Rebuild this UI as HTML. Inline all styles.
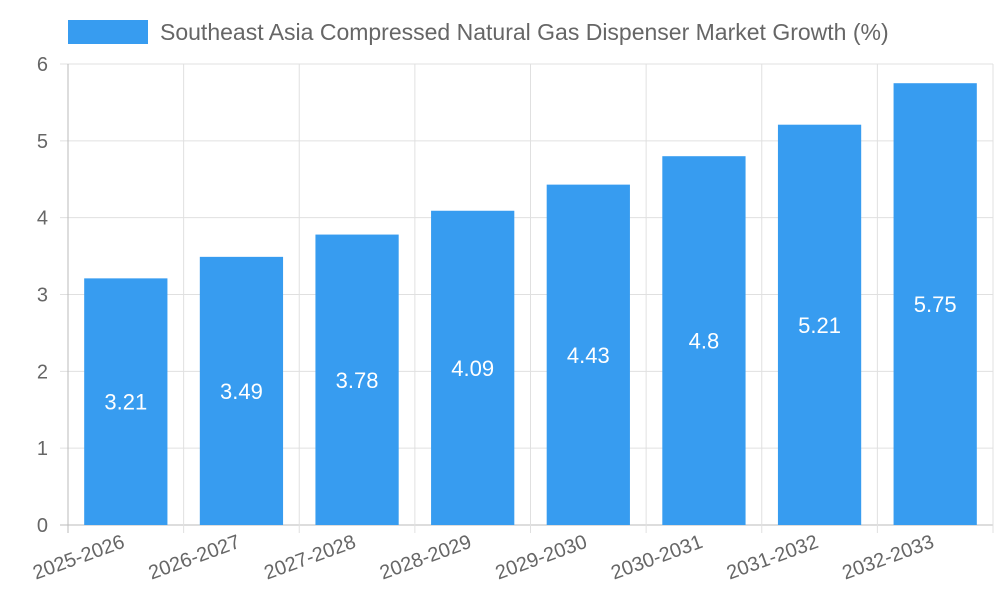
<!DOCTYPE html>
<html><head><meta charset="utf-8"><style>
html,body{margin:0;padding:0;background:#fff;}
svg{display:block;font-family:"Liberation Sans",sans-serif;}
</style></head><body>
<svg id="chart" width="1000" height="600">
<g id="legend">
<rect x="68" y="20" width="80" height="24" fill="#379cf0"/>
<text x="160" y="40" font-size="23" fill="#666">Southeast Asia Compressed Natural Gas Dispenser Market Growth (%)</text>
</g>
<g id="grid"></g><g id="bars"></g><g id="labels"></g>
</svg>
<script>
const categories=["2025-2026","2026-2027","2027-2028","2028-2029","2029-2030","2030-2031","2031-2032","2032-2033"];
const values=[3.21,3.49,3.78,4.09,4.43,4.8,5.21,5.75];
const yTicks=[0,1,2,3,4,5,6];
const L=68,R=993,T=64,B=525,yMax=6;
const ns="http://www.w3.org/2000/svg";
const cw=(R-L)/categories.length;
const y=v=>B-(v/yMax)*(B-T);
const x=i=>L+cw*i;
function mk(tag,attrs,parent,txt){const e=document.createElementNS(ns,tag);for(const k in attrs)e.setAttribute(k,attrs[k]);if(txt!==undefined)e.textContent=txt;document.getElementById(parent).appendChild(e);return e;}
yTicks.forEach(t=>{
 const g=mk('line',{x1:60,x2:R,y1:y(t),y2:y(t),stroke:t===0?'#bbb':'#e0e0e0','stroke-width':1},'grid');
 
 
 const l=mk('text',{x:48,y:y(t)+7,'font-size':20,fill:'#666','text-anchor':'end'},'labels',String(t));
 
 
});
for(let i=0;i<=categories.length;i++){
 const g=mk('line',{x1:x(i),x2:x(i),y1:T,y2:B+8,stroke:i===0?'#bbb':'#e0e0e0','stroke-width':1},'grid');
 
 
}
values.forEach((v,i)=>{
 const bw=cw*0.72,cx=x(i)+cw/2;
 const r=mk('rect',{x:cx-bw/2,y:y(v),width:bw,height:B-y(v),fill:'#379cf0'},'bars');
 
 
 const t=mk('text',{x:cx,y:(y(v)+B)/2+8,'font-size':22,fill:'#fff','text-anchor':'middle'},'labels',String(v));
 
 
 const c=mk('text',{x:cx,y:B+22,'font-size':20,fill:'#666','text-anchor':'end',transform:`rotate(-20 ${cx} ${B+22})`},'labels',categories[i]);
 
 
});
</script>
</body></html>
